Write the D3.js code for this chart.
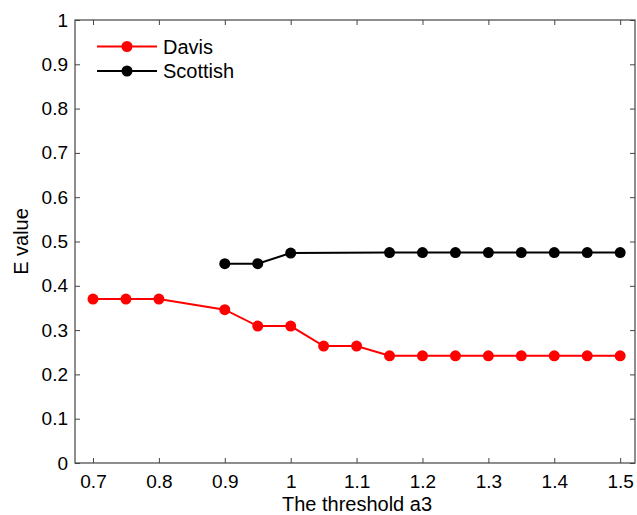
<!DOCTYPE html>
<html>
<head>
<meta charset="utf-8">
<script src="https://cdn.jsdelivr.net/npm/d3@7/dist/d3.min.js"></script>
<style>
  body { margin: 0; background: #fff; }
  svg text { font-family: "Liberation Sans", Arial, sans-serif; fill: #000; }
</style>
</head>
<body>
<script>
// data
const davisX = [0.7, 0.75, 0.8, 0.9, 0.95, 1.0, 1.05, 1.1, 1.15, 1.2, 1.25, 1.3, 1.35, 1.4, 1.45, 1.5];
const davisY = [0.37, 0.37, 0.37, 0.346, 0.309, 0.309, 0.264, 0.264, 0.242, 0.242, 0.242, 0.242, 0.242, 0.242, 0.242, 0.242];
const scotX = [0.9, 0.95, 1.0, 1.15, 1.2, 1.25, 1.3, 1.35, 1.4, 1.45, 1.5];
const scotY = [0.45, 0.45, 0.474, 0.475, 0.475, 0.475, 0.475, 0.475, 0.475, 0.475, 0.475];
const xTicks = [0.7, 0.8, 0.9, 1.0, 1.1, 1.2, 1.3, 1.4, 1.5];
const yTicks = [0, 0.1, 0.2, 0.3, 0.4, 0.5, 0.6, 0.7, 0.8, 0.9, 1];
const seriesNames = ["Davis", "Scottish"];
const seriesColors = ["#ff0000", "#000000"];

const W = 637, H = 515;
const box = { left: 75, right: 635, top: 20, bottom: 463 };

const svg = d3.select("body").append("svg")
  .attr("width", W).attr("height", H);

const x = d3.scaleLinear().domain([0.6727, 1.5225]).range([box.left, box.right]);
const y = d3.scaleLinear().domain([0, 1]).range([box.bottom, box.top]);

const fmt = d => String(+d.toFixed(1));
const tickLen = 5;
const tickFont = 19, labelFont = 20;

// axes (ticks pointing inward, MATLAB style box)
const axisCol = "#444";
function styleAxis(g) {
  g.select(".domain").remove();
  g.selectAll(".tick line").attr("stroke", axisCol).attr("stroke-width", 1);
  g.selectAll(".tick text").attr("font-size", tickFont).attr("fill", "#000");
}
svg.append("g").attr("transform", `translate(0,${box.bottom})`)
  .call(d3.axisBottom(x).tickValues(xTicks).tickFormat(fmt).tickSizeInner(-tickLen).tickPadding(12))
  .call(styleAxis);
svg.append("g").attr("transform", `translate(0,${box.top})`)
  .call(d3.axisTop(x).tickValues(xTicks).tickFormat("").tickSizeInner(-tickLen))
  .call(styleAxis);
svg.append("g").attr("transform", `translate(${box.left},0)`)
  .call(d3.axisLeft(y).tickValues(yTicks).tickFormat(fmt).tickSizeInner(-tickLen).tickPadding(7))
  .call(styleAxis);
svg.append("g").attr("transform", `translate(${box.right},0)`)
  .call(d3.axisRight(y).tickValues(yTicks).tickFormat("").tickSizeInner(-tickLen))
  .call(styleAxis);

svg.append("rect")
  .attr("x", box.left).attr("y", box.top)
  .attr("width", box.right - box.left).attr("height", box.bottom - box.top)
  .attr("fill", "none").attr("stroke", axisCol).attr("stroke-width", 1.2);

// series
const series = [
  { name: seriesNames[0], color: seriesColors[0], pts: davisX.map((v, i) => [v, davisY[i]]) },
  { name: seriesNames[1], color: seriesColors[1], pts: scotX.map((v, i) => [v, scotY[i]]) }
];
const line = d3.line().x(d => x(d[0])).y(d => y(d[1]));

series.forEach(s => {
  svg.append("path").datum(s.pts)
    .attr("d", line).attr("fill", "none")
    .attr("stroke", s.color).attr("stroke-width", 2);
  svg.append("g").selectAll("circle").data(s.pts).enter().append("circle")
    .attr("cx", d => x(d[0])).attr("cy", d => y(d[1]))
    .attr("r", 5.5).attr("fill", s.color);
});

// legend
const legend = svg.append("g");
series.forEach((s, i) => {
  const ly = 46.5 + i * 24.5;
  legend.append("line").attr("x1", 97).attr("x2", 157).attr("y1", ly).attr("y2", ly)
    .attr("stroke", s.color).attr("stroke-width", 2);
  legend.append("circle").attr("cx", 127).attr("cy", ly).attr("r", 5.5).attr("fill", s.color);
  legend.append("text").attr("x", 163).attr("y", ly + 7).attr("font-size", labelFont).text(s.name);
});

// axis labels
svg.append("text").attr("x", 357).attr("y", 511)
  .attr("text-anchor", "middle").attr("font-size", labelFont).text("The threshold a3");
svg.append("text").attr("transform", `translate(28,${(box.top + box.bottom) / 2}) rotate(-90)`)
  .attr("text-anchor", "middle").attr("font-size", labelFont).text("E value");
</script>
</body>
</html>
